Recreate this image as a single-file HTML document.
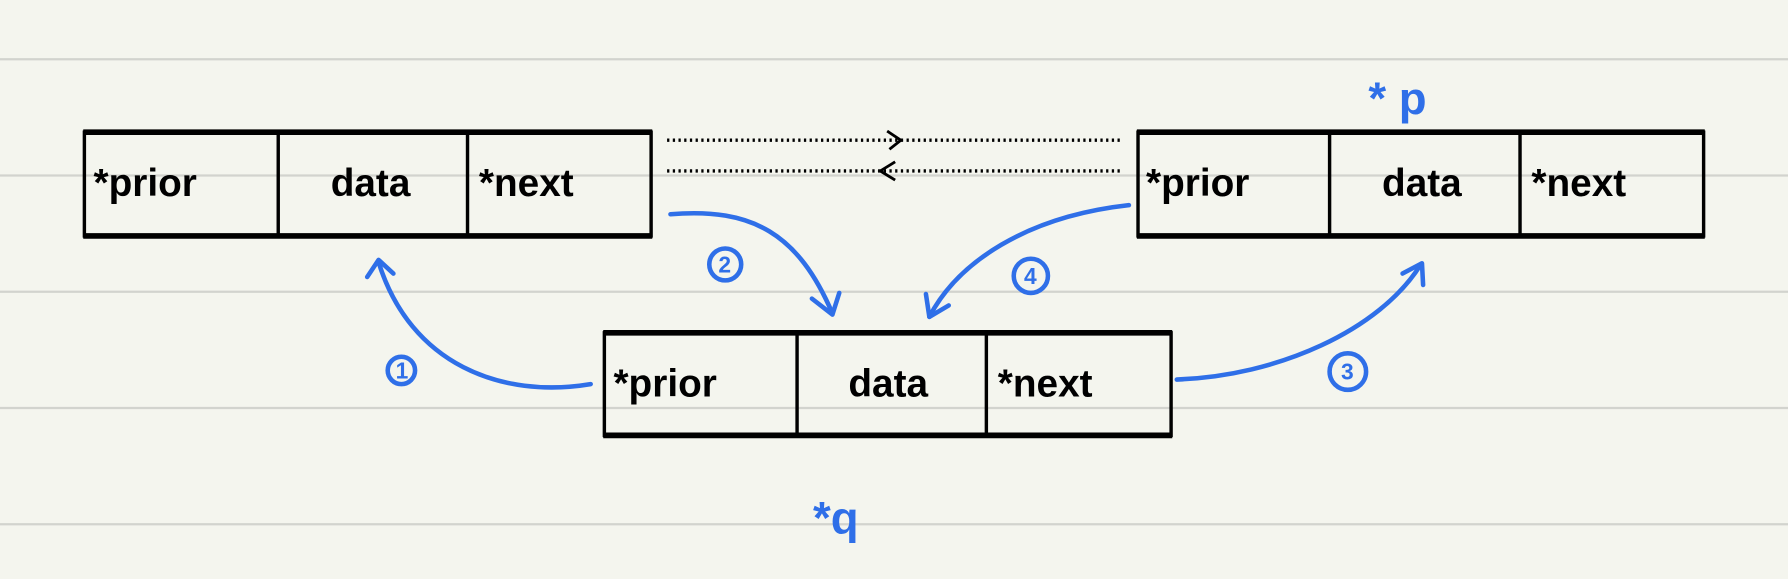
<!DOCTYPE html>
<html><head><meta charset="utf-8"><style>
html,body{margin:0;padding:0;background:#f4f5ee;}
svg{display:block}
text{font-family:"Liberation Sans",sans-serif;font-weight:bold;}
</style></head><body>
<svg width="1788" height="579" viewBox="0 0 1568 508" preserveAspectRatio="none" xmlns="http://www.w3.org/2000/svg">
<rect width="1568" height="508" fill="#f4f5ee"/>
<g stroke="#d2d3ce" stroke-width="2">
<line x1="0" y1="52" x2="1568" y2="52"/><line x1="0" y1="154" x2="1568" y2="154"/>
<line x1="0" y1="256" x2="1568" y2="256"/><line x1="0" y1="358" x2="1568" y2="358"/>
<line x1="0" y1="460" x2="1568" y2="460"/>
</g>
<g fill="none" stroke="#000">
<g stroke-width="3">
<rect x="74" y="116" width="497" height="91"/><line x1="244" y1="116" x2="244" y2="207"/><line x1="410" y1="116" x2="410" y2="207"/>
<rect x="998" y="116" width="496" height="91"/><line x1="1166" y1="116" x2="1166" y2="207"/><line x1="1333" y1="116" x2="1333" y2="207"/>
<rect x="530" y="292" width="497" height="90"/><line x1="699" y1="292" x2="699" y2="382"/><line x1="865" y1="292" x2="865" y2="382"/>
</g>
<g stroke-width="5">
<line x1="73" y1="116" x2="572" y2="116"/><line x1="73" y1="207" x2="572" y2="207"/>
<line x1="997" y1="116" x2="1495" y2="116"/><line x1="997" y1="207" x2="1495" y2="207"/>
<line x1="529" y1="292" x2="1028" y2="292"/><line x1="529" y1="382" x2="1028" y2="382"/>
</g>
<g stroke-width="3" stroke-dasharray="2 3">
<line x1="585" y1="123" x2="985" y2="123"/><line x1="585" y1="150" x2="985" y2="150"/>
</g>
<path d="M778 115 L790 123 L780 131" stroke-width="2.5"/>
<path d="M785 142 L772 150 L785 158" stroke-width="2.5"/>
</g>
<g font-size="34" fill="#000">
<text x="82" y="172">*prior</text><text x="290" y="172">data</text><text x="420" y="172">*next</text>
<text x="1005" y="172">*prior</text><text x="1212" y="172">data</text><text x="1343" y="172">*next</text>
<text x="538" y="348">*prior</text><text x="744" y="348">data</text><text x="875" y="348">*next</text>
</g>
<g fill="none" stroke="#2f6fe8" stroke-width="4" stroke-linecap="round" stroke-linejoin="round">
<path d="M518 337 C440 350 360 320 332 230"/><path d="M322 243 L332 228 L345 240"/>
<path d="M588 188 C660 182 700 205 730 275"/><path d="M712 262 L730 276 L736 257"/>
<path d="M990 180 C900 190 840 230 815 278"/><path d="M812 258 L815 278 L832 268"/>
<path d="M1032 333 C1120 330 1210 290 1246 232"/><path d="M1230 240 L1247 231 L1248 250"/>
<circle cx="352" cy="325" r="12"/><circle cx="636" cy="232" r="14"/>
<circle cx="904" cy="242" r="15"/><circle cx="1182" cy="326" r="16"/>
</g>
<g font-size="20" fill="#2f6fe8">
<text x="347" y="332">1</text><text x="630" y="239">2</text><text x="898" y="249">4</text><text x="1176" y="333">3</text>
</g>
<g font-size="40" fill="#2f6fe8">
<text x="1200" y="100">* p</text><text x="713" y="468">*q</text>
</g>
</svg>
</body></html>
